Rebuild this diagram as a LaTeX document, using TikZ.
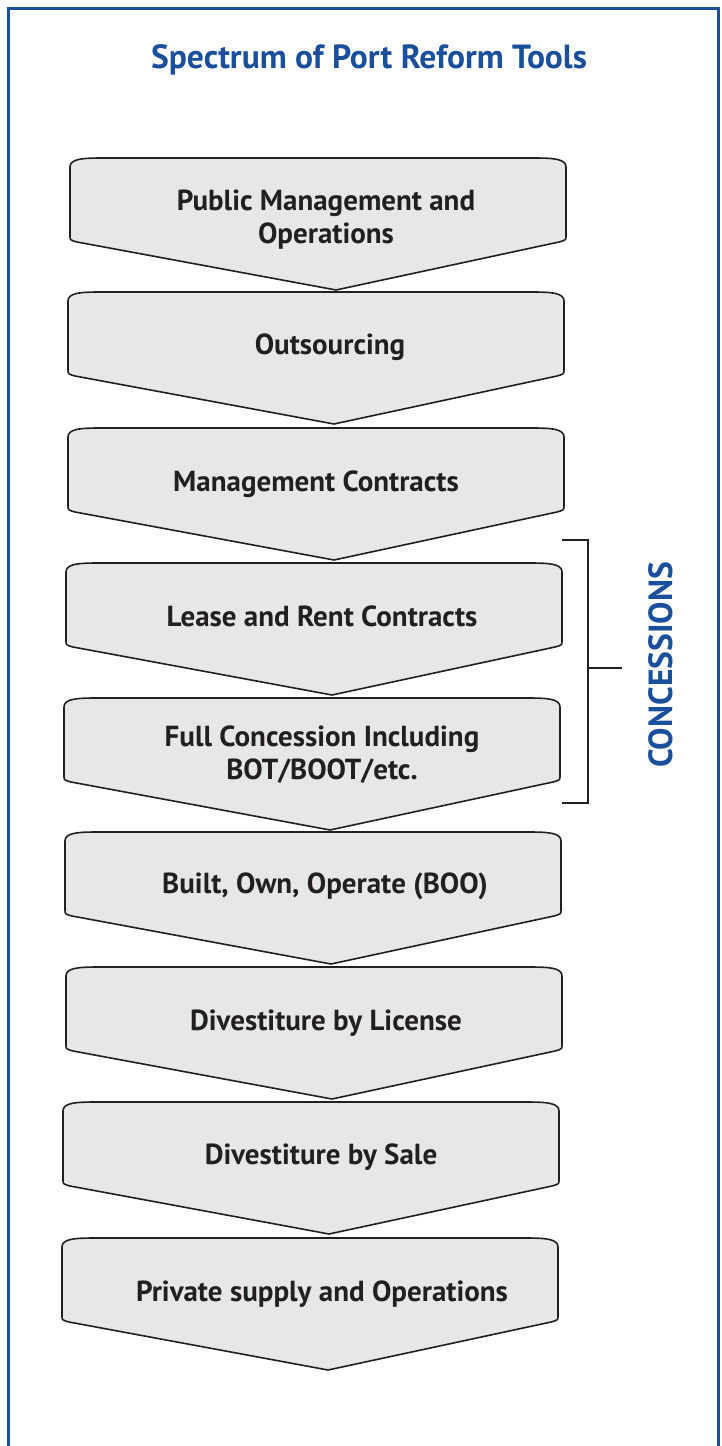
\documentclass[tikz,border=0pt]{standalone}
\usepackage{fontspec}
\setmainfont{PT Sans}
\usepackage{tikz}
\usepackage{xcolor}

\definecolor{portblue}{HTML}{1A4F9C}
\definecolor{stagefill}{HTML}{E6E7E8}
\definecolor{ink}{HTML}{231F20}

\begin{document}
\begin{tikzpicture}[x=1pt, y=-1pt,
    stagebox/.style={draw=ink, fill=stagefill, line width=1.6pt, line join=round},
    stagetext/.style={text=ink, font=\fontsize{29}{33}\selectfont\bfseries, align=center, yshift=-2.5pt},
    bracket/.style={draw=ink, line width=1.8pt}]
    \useasboundingbox (0, 0) rectangle (721, 1446);

    % frame, open at the bottom
    \draw[portblue, line width=3pt] (8.5, 1446) -- (8.5, 8.5) -- (718, 8.5) -- (718, 1446);

    \node[text=portblue, font=\fontsize{33.5}{38}\selectfont\bfseries] (title) at (369, 60) {Spectrum of Port Reform Tools};

    % the stages, each one a box that points down onto the next
    \foreach \lx/\ty/\tx/\tyy/\nm/\lbl in {
        70/158/326/217/pubman/{Public Management and\\Operations},
        68/292/330/345/outsrc/{Outsourcing},
        68/428/316/482/mgmt/{Management Contracts},
        66/563/322/614/lease/{Lease and Rent Contracts},
        64/698/322/752/fullcon/{Full Concession Including\\BOT/BOOT/etc.},
        65/832/325/884/boo/{Built, Own, Operate (BOO)},
        66/967/326/1021/license/{Divestiture by License},
        63/1102/321/1155/sale/{Divestiture by Sale},
        62/1238/322/1292/private/{Private supply and Operations}} {
        \draw[stagebox] (\lx, \ty+9) .. controls (\lx, \ty+1) and (\lx+12, \ty) .. (\lx+32, \ty)
            -- (\lx+464, \ty) .. controls (\lx+484, \ty) and (\lx+496, \ty+1) .. (\lx+496, \ty+9)
            -- (\lx+496, \ty+78) .. controls (\lx+496, \ty+82) .. (\lx+489, \ty+84)
            -- (\lx+266, \ty+132)
            -- (\lx+7, \ty+84) .. controls (\lx, \ty+82) .. (\lx, \ty+78) -- cycle;
        \node[stagetext] (\nm) at (\tx, \tyy) {\lbl};
    }

    % bracket for the concession stages
    \coordinate (brtop) at (588, 540);
    \coordinate (brbot) at (588, 803);
    \coordinate (brmid) at (588, 668);
    \draw[bracket] (562, 540) -- (brtop) -- (brbot) -- (562, 803);
    \draw[bracket] (brmid) -- (622, 668);
    \node[rotate=90, text=portblue, font=\fontsize{33.5}{36}\selectfont\bfseries] (concess) at (661, 665) {CONCESSIONS};
\end{tikzpicture}
\end{document}
